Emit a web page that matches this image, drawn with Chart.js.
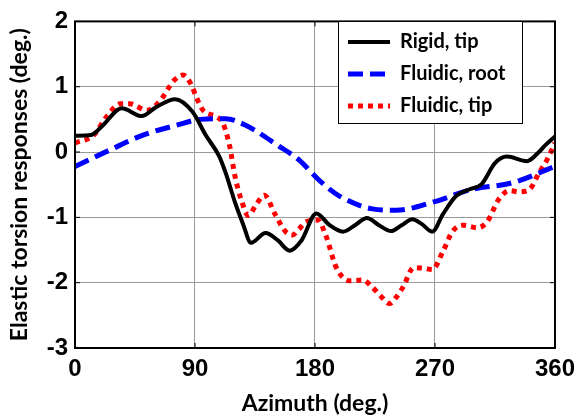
<!DOCTYPE html>
<html><head><meta charset="utf-8">
<script src="https://cdn.jsdelivr.net/npm/chart.js@4"></script>
<style>html,body{margin:0;padding:0;background:#fff}#wrap{width:582px;height:419px}</style>
</head><body><div id="wrap"><canvas id="c" width="582" height="419"></canvas></div>
<script>
const xTicks = [0, 90, 180, 270, 360];
const yTicks = [2, 1, 0, -1, -2, -3];
const seriesNames = ["Rigid, tip", "Fluidic, root", "Fluidic, tip"];

const rigidAz   = [0, 12, 21, 35, 50, 61, 75, 88, 98, 108, 113, 120, 126, 132, 143, 152, 161, 170, 181, 191, 201, 210, 219, 228, 237, 245, 253, 260, 268, 276, 286, 296, 305, 315, 324, 339, 347, 353, 360];
const rigidVals = [0.25, 0.26, 0.41, 0.67, 0.55, 0.69, 0.81, 0.62, 0.26, -0.06, -0.32, -0.77, -1.10, -1.39, -1.24, -1.35, -1.51, -1.35, -0.94, -1.12, -1.22, -1.12, -1.01, -1.12, -1.21, -1.12, -1.03, -1.10, -1.22, -0.95, -0.67, -0.57, -0.49, -0.17, -0.07, -0.14, -0.02, 0.11, 0.24];

const rootAz   = [0, 26, 51, 76, 94, 113, 128, 153, 168, 181, 188, 198, 223, 241, 268, 298, 328, 360];
const rootVals = [-0.22, 0.03, 0.26, 0.41, 0.50, 0.51, 0.41, 0.09, -0.12, -0.39, -0.52, -0.67, -0.87, -0.89, -0.77, -0.57, -0.47, -0.22];

const tipAz   = [0, 14, 24, 34, 41, 54, 64, 74, 81, 87, 91, 96, 106, 111, 116, 120, 125, 130, 136, 142, 150, 158, 163, 168, 173, 182, 188, 196, 206, 216, 223, 230, 236, 241, 246, 254, 262, 268, 276, 283, 291, 302, 309, 318, 326, 333, 341, 348, 354, 360];
const tipVals = [0.14, 0.26, 0.55, 0.74, 0.74, 0.64, 0.79, 1.09, 1.18, 1.04, 0.84, 0.64, 0.54, 0.44, 0.09, -0.37, -0.75, -0.97, -0.80, -0.66, -0.95, -1.22, -1.27, -1.18, -1.07, -1.04, -1.27, -1.77, -1.97, -1.96, -2.07, -2.22, -2.32, -2.22, -2.07, -1.77, -1.78, -1.80, -1.52, -1.22, -1.12, -1.16, -1.07, -0.72, -0.59, -0.61, -0.57, -0.32, -0.12, 0.14];

const pts = (xs, ys) => xs.map((x, i) => ({x: x, y: ys[i]}));

const boxPlugin = {
  id: 'box',
  afterDatasetsDraw(chart) {
    const {ctx, chartArea: a, scales} = chart;
    ctx.save();
    ctx.strokeStyle = '#000';
    ctx.lineWidth = 2;
    ctx.strokeRect(a.left, a.top, a.right - a.left, a.bottom - a.top);
    ctx.lineWidth = 1;
    xTicks.forEach(v => {
      const x = scales.x.getPixelForValue(v);
      ctx.beginPath(); ctx.moveTo(x, a.bottom); ctx.lineTo(x, a.bottom - 5);
      ctx.moveTo(x, a.top); ctx.lineTo(x, a.top + 5); ctx.stroke();
    });
    yTicks.forEach(v => {
      const y = scales.y.getPixelForValue(v);
      ctx.beginPath(); ctx.moveTo(a.left, y); ctx.lineTo(a.left + 5, y);
      ctx.moveTo(a.right, y); ctx.lineTo(a.right - 5, y); ctx.stroke();
    });
    const lx = 338, ly = 21, lw = 184, lh = 102;
    ctx.fillStyle = '#fff';
    ctx.fillRect(lx, ly, lw, lh);
    ctx.strokeStyle = '#000'; ctx.lineWidth = 1;
    ctx.strokeRect(lx + 0.5, ly + 0.5, lw, lh);
    ctx.font = 'bold 20px Lato, "Liberation Sans", sans-serif';
    ctx.textBaseline = 'middle';
    chart.data.datasets.forEach((ds, i) => {
      const y = ly + 21 + i * 32;
      ctx.save();
      ctx.strokeStyle = ds.borderColor;
      ctx.lineWidth = ds.borderWidth;
      ctx.setLineDash(ds.borderDash || []);
      ctx.beginPath(); ctx.moveTo(lx + 10, y); ctx.lineTo(lx + 52, y); ctx.stroke();
      ctx.restore();
      ctx.fillStyle = '#000';
      ctx.fillText(ds.label, lx + 62, y);
    });
    ctx.restore();
  }
};

new Chart(document.getElementById('c'), {
  type: 'line',
  data: {
    datasets: [
      {label: seriesNames[0], data: pts(rigidAz, rigidVals), borderColor: '#000000', borderWidth: 4, pointRadius: 0, cubicInterpolationMode: 'monotone', fill: false},
      {label: seriesNames[1], data: pts(rootAz, rootVals), borderColor: '#0000ff', borderWidth: 5, borderDash: [15, 7], pointRadius: 0, cubicInterpolationMode: 'monotone', fill: false},
      {label: seriesNames[2], data: pts(tipAz, tipVals), borderColor: '#ff0000', borderWidth: 5, borderDash: [5, 5], pointRadius: 0, cubicInterpolationMode: 'monotone', fill: false}
    ]
  },
  options: {
    responsive: false,
    animation: false,
    layout: {padding: {top: 16, right: 26, left: 0, bottom: 0}},
    plugins: {legend: {display: false}, tooltip: {enabled: false}},
    scales: {
      x: {
        type: 'linear', min: 0, max: 360,
        afterBuildTicks: s => { s.ticks = xTicks.map(v => ({value: v})); },
        afterFit: s => { s.height = 71; },
        grid: {color: '#9a9a9a', lineWidth: 1, drawTicks: false},
        border: {display: false},
        ticks: {color: '#000', padding: 7, font: {family: '"Liberation Sans", Arial, sans-serif', size: 24, weight: 'bold'}, maxRotation: 0},
        title: {display: true, text: 'Azimuth (deg.)', color: '#000', font: {family: 'Lato, "Liberation Sans", sans-serif', size: 23, weight: 'bold'}, padding: {top: 0, bottom: 2}}
      },
      y: {
        type: 'linear', min: -3, max: 2,
        afterBuildTicks: s => { s.ticks = yTicks.map(v => ({value: v})); },
        afterFit: s => { s.width = 75; },
        grid: {color: '#9a9a9a', lineWidth: 1, drawTicks: false},
        border: {display: false},
        ticks: {color: '#000', padding: 7, font: {family: '"Liberation Sans", Arial, sans-serif', size: 24, weight: 'bold'}},
        title: {display: true, text: 'Elastic torsion responses (deg.)', color: '#000', font: {family: 'Lato, "Liberation Sans", sans-serif', size: 23, weight: 'bold'}, padding: {top: 6, bottom: 0}}
      }
    }
  },
  plugins: [boxPlugin]
});
</script></body></html>
